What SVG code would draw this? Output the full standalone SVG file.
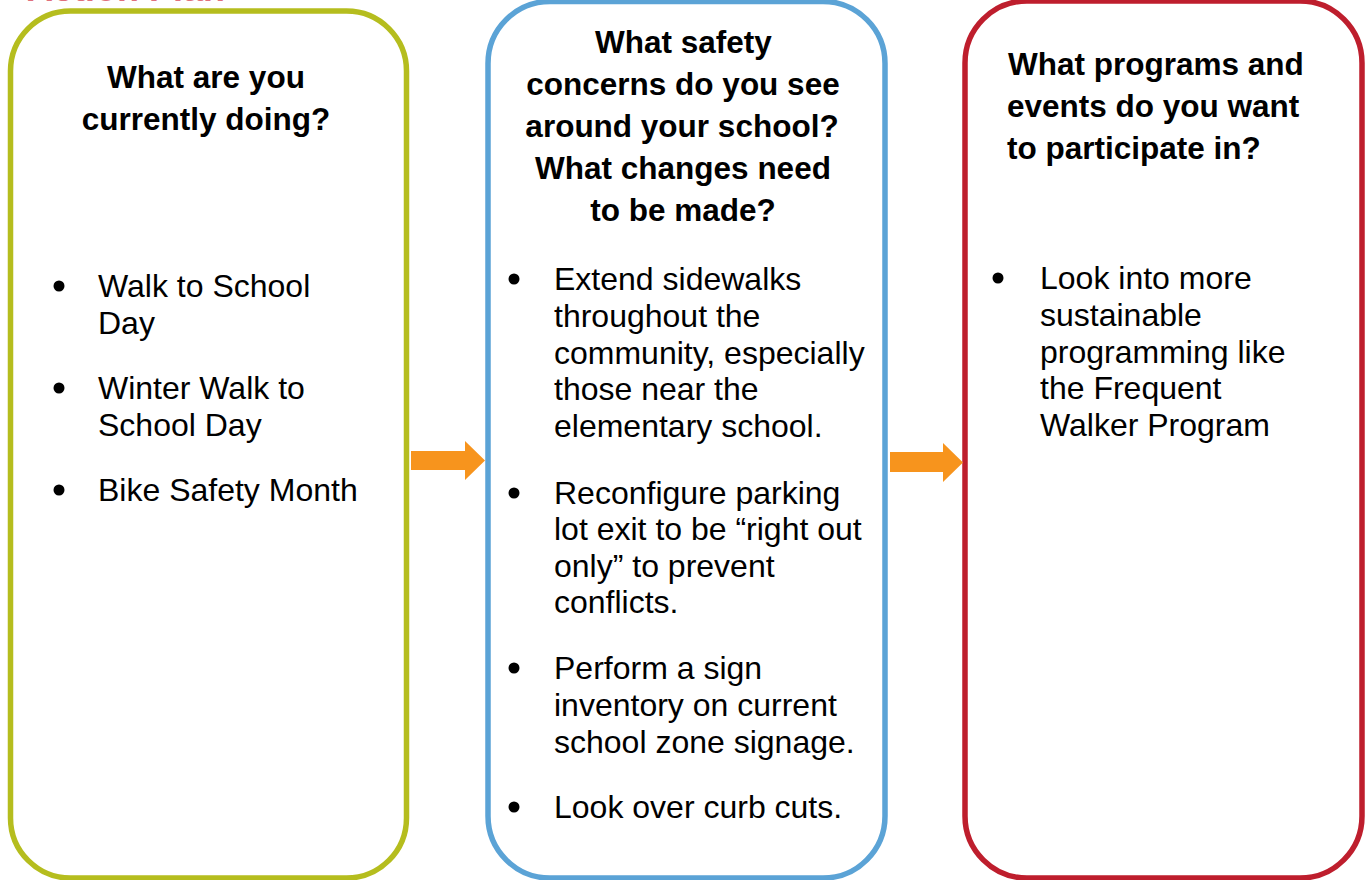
<svg xmlns="http://www.w3.org/2000/svg" width="1367" height="880" viewBox="0 0 1367 880">
<style>
.box{fill:#ffffff;stroke-width:5.5}
.h{font-family:"Liberation Sans",Arial,sans-serif;font-weight:bold;font-size:31.5px;fill:#000}
.b{font-family:"Liberation Sans",Arial,sans-serif;font-size:32px;fill:#000}
.dot{fill:#000}
.arr{fill:#f7941d}
</style>
<rect width="1367" height="880" fill="#ffffff"/>
<text x="27" y="0.5" font-family="Liberation Sans, Arial, sans-serif" font-weight="bold" font-size="36" fill="#e0707c">Action Plan</text>

<g id="node-current">
<rect class="box" x="10.5" y="11" width="396" height="867" rx="60" ry="60" stroke="#b5bd1e"/>
<text class="h" text-anchor="middle"><tspan x="206" y="88">What are you</tspan><tspan x="206" y="130">currently doing?</tspan></text>
<circle class="dot" cx="59" cy="286" r="5.5"/>
<circle class="dot" cx="59" cy="388" r="5.5"/>
<circle class="dot" cx="59" cy="490" r="5.5"/>
<text class="b"><tspan x="98" y="297">Walk to School</tspan><tspan x="98" y="334">Day</tspan><tspan x="98" y="399">Winter Walk to</tspan><tspan x="98" y="436">School Day</tspan><tspan x="98" y="501">Bike Safety Month</tspan></text>
</g>

<g id="node-concerns">
<rect class="box" x="488" y="1.5" width="397" height="876.5" rx="62" ry="62" stroke="#5ba3d6"/>
<text class="h" text-anchor="middle"><tspan x="683.5" y="53">What safety</tspan><tspan x="683" y="95">concerns do you see</tspan><tspan x="682" y="137">around your school?</tspan><tspan x="683" y="179">What changes need</tspan><tspan x="683" y="221">to be made?</tspan></text>
<circle class="dot" cx="514" cy="279" r="5.5"/>
<circle class="dot" cx="514" cy="493" r="5.5"/>
<circle class="dot" cx="514" cy="668" r="5.5"/>
<circle class="dot" cx="514" cy="807" r="5.5"/>
<text class="b"><tspan x="554" y="290">Extend sidewalks</tspan><tspan x="554" y="327">throughout the</tspan><tspan x="554" y="364">community, especially</tspan><tspan x="554" y="400">those near the</tspan><tspan x="554" y="437">elementary school.</tspan><tspan x="554" y="504">Reconfigure parking</tspan><tspan x="554" y="540">lot exit to be “right out</tspan><tspan x="554" y="577">only” to prevent</tspan><tspan x="554" y="613">conflicts.</tspan><tspan x="554" y="679">Perform a sign</tspan><tspan x="554" y="716">inventory on current</tspan><tspan x="554" y="753">school zone signage.</tspan><tspan x="554" y="818">Look over curb cuts.</tspan></text>
</g>

<g id="node-programs">
<rect class="box" x="965" y="1" width="397" height="877" rx="62" ry="62" stroke="#be1e2d"/>
<text class="h"><tspan x="1008" y="75">What programs and</tspan><tspan x="1007" y="117">events do you want</tspan><tspan x="1007" y="159">to participate in?</tspan></text>
<circle class="dot" cx="998" cy="278" r="5.5"/>
<text class="b"><tspan x="1040" y="289">Look into more</tspan><tspan x="1040" y="326">sustainable</tspan><tspan x="1040" y="363">programming like</tspan><tspan x="1040" y="399">the Frequent</tspan><tspan x="1040" y="436">Walker Program</tspan></text>
</g>

<g id="connectors">
<polygon class="arr" points="411,451 465,451 465,441 485,460.5 465,480 465,470 411,470"/>
<polygon class="arr" points="890,452 943,452 943,443 963,462.5 943,482 943,472 890,472"/>
</g>
</svg>
